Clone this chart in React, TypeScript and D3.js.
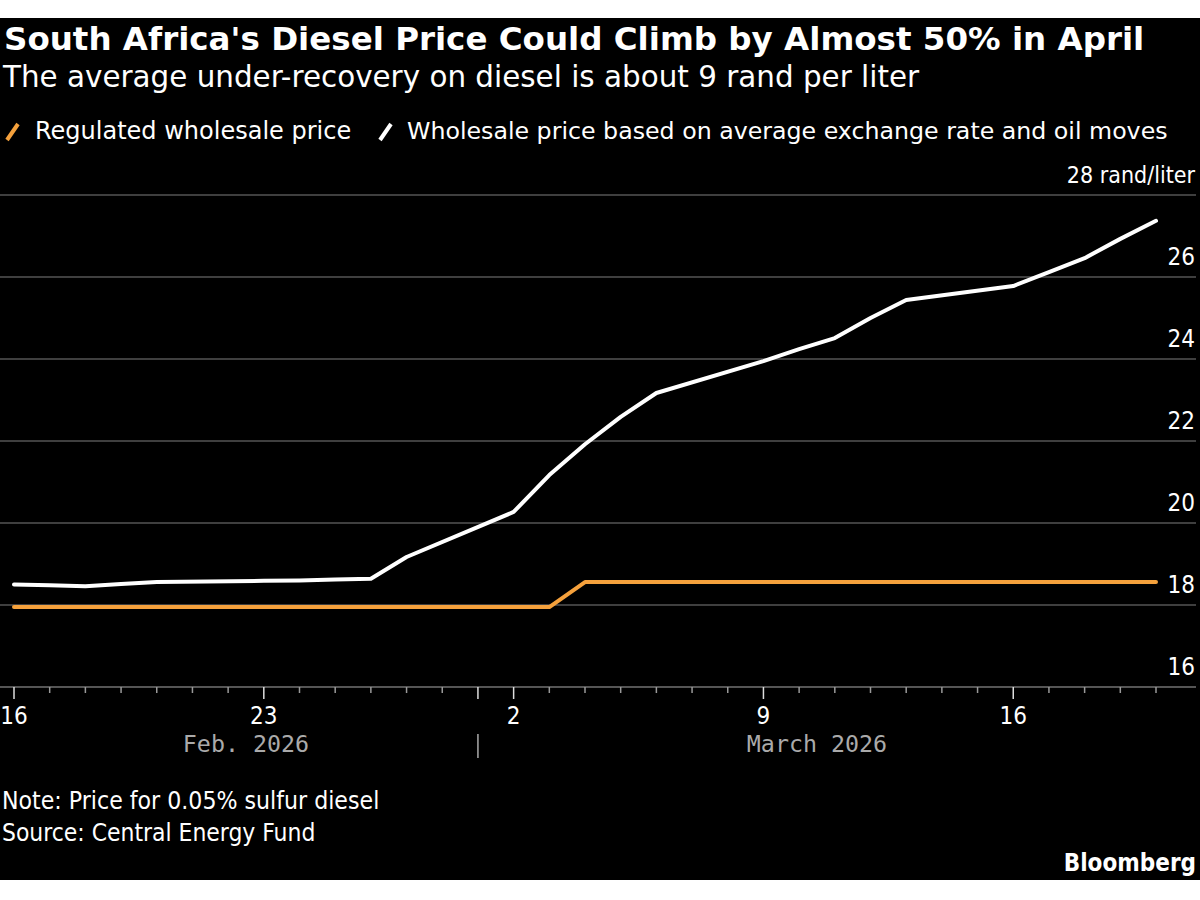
import React from 'react';
import * as d3 from 'd3';

// weekdays shown in the chart
const dates = [
  '2026-02-16', '2026-02-17', '2026-02-18', '2026-02-19', '2026-02-20',
  '2026-02-23', '2026-02-24', '2026-02-25', '2026-02-26', '2026-02-27',
  '2026-03-02', '2026-03-03', '2026-03-04', '2026-03-05', '2026-03-06',
  '2026-03-09', '2026-03-10', '2026-03-11', '2026-03-12', '2026-03-13',
  '2026-03-16', '2026-03-17', '2026-03-18', '2026-03-19', '2026-03-20',
];

const regulated = [
  17.95, 17.95, 17.95, 17.95, 17.95,
  17.95, 17.95, 17.95, 17.95, 17.95,
  17.95, 17.95, 18.56, 18.56, 18.56,
  18.56, 18.56, 18.56, 18.56, 18.56,
  18.56, 18.56, 18.56, 18.56, 18.56,
];

const wholesale = [
  18.5, 18.48, 18.46, 18.51, 18.56,
  18.59, 18.6, 18.62, 18.64, 19.17,
  20.27, 21.17, 21.92, 22.59, 23.17,
  23.95, 24.24, 24.51, 25.0, 25.44,
  25.78, 26.12, 26.46, 26.93, 27.37,
];

const yTicks = [16, 18, 20, 22, 24, 26, 28];
const labeledDays = ['2026-02-16', '2026-02-23', '2026-03-02', '2026-03-09', '2026-03-16'];
const months = [
  { label: 'Feb. 2026', start: '2026-02-16', end: '2026-03-01' },
  { label: 'March 2026', start: '2026-03-01', end: '2026-03-20' },
];

const ORANGE = '#f5a13c';
const GRID = '#555555';
const WIDE = '"DejaVu Sans", sans-serif';
const FONT = '"DejaVu Sans Condensed", "DejaVu Sans", sans-serif';
const MONO = '"DejaVu Sans Mono", monospace';

const parse = d3.utcParse('%Y-%m-%d');

export default function App() {
  const width = 1200;
  const height = 900;

  const x = d3.scaleUtc()
    .domain([parse('2026-02-16')!, parse('2026-03-20')!])
    .range([14, 1156]);
  const y = d3.scaleLinear().domain([16, 28]).range([687, 195]);

  const dts = dates.map(d => parse(d)!);
  const line = d3.line<number>()
    .x((_, i) => x(dts[i]))
    .y(v => y(v));

  const allDays = d3.utcDay.range(parse('2026-02-16')!, d3.utcDay.offset(parse('2026-03-20')!, 1));
  const majorSet = new Set([...labeledDays, '2026-03-01']);
  const fmt = d3.utcFormat('%Y-%m-%d');

  return (
    <svg width={width} height={height} style={{ position: 'absolute', left: 0, top: 0, background: '#fff' }}>
      <rect x={0} y={18} width={width} height={862} fill="#000" />

      {/* titles */}
      <text x={4} y={50} fill="#fff" fontFamily={WIDE} fontWeight="bold" fontSize={32.5}>
        South Africa's Diesel Price Could Climb by Almost 50% in April
      </text>
      <text x={3} y={87} fill="#fff" fontFamily={WIDE} fontSize={29.4}>
        The average under-recovery on diesel is about 9 rand per liter
      </text>

      {/* legend */}
      <line x1={7} y1={140} x2={18} y2={124} stroke={ORANGE} strokeWidth={4} />
      <text x={35} y={139} fill="#fff" fontFamily={WIDE} fontSize={24}>Regulated wholesale price</text>
      <line x1={380} y1={140} x2={391} y2={124} stroke="#fff" strokeWidth={4} />
      <text x={407} y={139} fill="#fff" fontFamily={WIDE} fontSize={23.7}>
        Wholesale price based on average exchange rate and oil moves
      </text>

      {/* grid + y labels */}
      {yTicks.map(t => (
        <g key={t}>
          <line x1={0} x2={1196} y1={y(t)} y2={y(t)} stroke={GRID} strokeWidth={t === 16 ? 2 : 1.5} />
          <text x={1195} y={y(t) - 12} textAnchor="end" fill="#fff" fontFamily={FONT} fontSize={t === 28 ? 23 : 24}>
            {t === 28 ? '28 rand/liter' : t}
          </text>
        </g>
      ))}

      {/* x ticks */}
      {allDays.map(d => {
        const major = majorSet.has(fmt(d));
        return (
          <line key={fmt(d)} x1={x(d)} x2={x(d)} y1={y(16)} y2={y(16) + (major ? 12 : 6)}
            stroke={major ? '#ddd' : '#999'} strokeWidth={1.5} />
        );
      })}
      {labeledDays.map(d => (
        <text key={d} x={x(parse(d)!)} y={724} textAnchor="middle" fill="#fff" fontFamily={FONT} fontSize={24}>
          {parse(d)!.getUTCDate()}
        </text>
      ))}
      {months.map(m => (
        <text key={m.label} x={(x(parse(m.start)!) + x(parse(m.end)!)) / 2} y={752} textAnchor="middle"
          fill="#aaa" fontFamily={MONO} fontSize={23.3}>
          {m.label}
        </text>
      ))}
      <line x1={x(parse('2026-03-01')!)} x2={x(parse('2026-03-01')!)} y1={734} y2={758} stroke="#aaa" strokeWidth={1.5} />

      {/* series */}
      <path d={line(regulated)!} fill="none" stroke={ORANGE} strokeWidth={4} strokeLinejoin="round" strokeLinecap="round" />
      <path d={line(wholesale)!} fill="none" stroke="#fff" strokeWidth={4} strokeLinejoin="round" strokeLinecap="round" />

      {/* footer */}
      <text x={2} y={809} fill="#fff" fontFamily={FONT} fontSize={24.6}>Note: Price for 0.05% sulfur diesel</text>
      <text x={2} y={841} fill="#fff" fontFamily={FONT} fontSize={24.4}>Source: Central Energy Fund</text>
      <text x={1196} y={871} textAnchor="end" fill="#fff" fontFamily={FONT} fontWeight="bold" fontSize={24}>Bloomberg</text>
    </svg>
  );
}
